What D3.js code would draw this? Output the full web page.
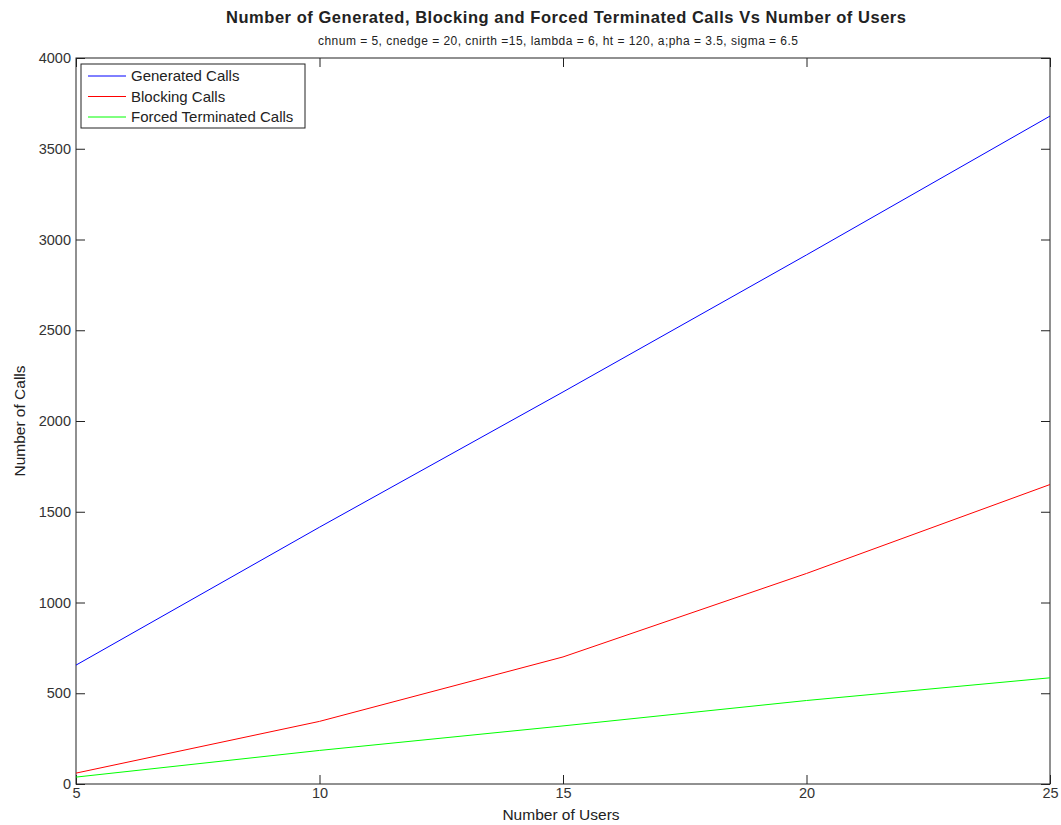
<!DOCTYPE html>
<html lang="en">
<head>
  <meta charset="UTF-8" />
  <title>Calls vs Users</title>
  <style>
    body { margin: 0; background: #fff; }
    text { font-family: "Liberation Sans", Arial, sans-serif; fill: #222; }
    .tick text { font-size: 14.5px; fill: #333; }
    .tick line { stroke: #222; }
  </style>
  <script src="https://d3js.org/d3.v7.min.js"></script>
</head>
<body>
  <svg id="chart"></svg>
  <script>
    const users = [5, 10, 15, 20, 25];
    const generated = [655, 1415, 2160, 2915, 3680];
    const blocking = [60, 345, 700, 1160, 1650];
    const forced = [38, 185, 320, 460, 585];
    const xTicks = [5, 10, 15, 20, 25];
    const yTicks = [0, 500, 1000, 1500, 2000, 2500, 3000, 3500, 4000];

    const series = [
      { name: 'Generated Calls', values: generated, color: '#0000ff' },
      { name: 'Blocking Calls', values: blocking, color: '#ff0000' },
      { name: 'Forced Terminated Calls', values: forced, color: '#00ff00' }
    ];

    const W = 1061, H = 825;
    const mLeft = 76, mRight = 1050, mTop = 58, mBottom = 784;

    const svg = d3.select('#chart').attr('width', W).attr('height', H);

    const x = d3.scaleLinear().domain([5, 25]).range([mLeft, mRight]);
    const y = d3.scaleLinear().domain([0, 4000]).range([mBottom, mTop]);

    // box
    svg.append('rect')
      .attr('x', mLeft).attr('y', mTop)
      .attr('width', mRight - mLeft).attr('height', mBottom - mTop)
      .attr('fill', 'none').attr('stroke', '#222').attr('stroke-width', 1);

    // axes with inward ticks
    const tl = 9;
    svg.append('g').attr('transform', `translate(0,${mBottom})`)
      .call(d3.axisBottom(x).tickValues(xTicks).tickSize(-tl).tickPadding(4))
      .call(g => g.select('.domain').remove());
    svg.append('g').attr('transform', `translate(0,${mTop})`)
      .call(d3.axisTop(x).tickValues(xTicks).tickSize(-tl).tickFormat(''))
      .call(g => g.select('.domain').remove());
    svg.append('g').attr('transform', `translate(${mLeft},0)`)
      .call(d3.axisLeft(y).tickValues(yTicks).tickSize(-tl).tickFormat(d3.format('d')))
      .call(g => g.select('.domain').remove())
      .call(g => g.selectAll('.tick text').attr('x', -5));
    svg.append('g').attr('transform', `translate(${mRight},0)`)
      .call(d3.axisRight(y).tickValues(yTicks).tickSize(-tl).tickFormat(''))
      .call(g => g.select('.domain').remove());

    const line = d3.line().x((d, i) => x(users[i])).y(d => y(d));

    series.forEach(s => {
      svg.append('path')
        .datum(s.values)
        .attr('d', line)
        .attr('fill', 'none')
        .attr('stroke', s.color)
        .attr('stroke-width', 1);
    });

    // legend
    const lg = svg.append('g').attr('transform', 'translate(81,64)');
    lg.append('rect').attr('width', 224).attr('height', 64)
      .attr('fill', '#fff').attr('stroke', '#222');
    series.forEach((s, i) => {
      const ly = 12 + i * 20.5;
      lg.append('line').attr('x1', 7).attr('x2', 45).attr('y1', ly).attr('y2', ly)
        .attr('stroke', s.color).attr('stroke-width', 1);
      lg.append('text').attr('x', 50).attr('y', ly).attr('dy', '0.35em')
        .attr('font-size', 15).text(s.name);
    });

    // titles
    svg.append('text').attr('x', 566).attr('y', 23)
      .attr('text-anchor', 'middle').attr('font-size', 16.5).attr('font-weight', 'bold')
      .attr('textLength', 680).attr('lengthAdjust', 'spacing')
      .text('Number of Generated, Blocking and Forced Terminated Calls Vs Number of Users');
    svg.append('text').attr('x', 558).attr('y', 45)
      .attr('text-anchor', 'middle').attr('font-size', 12)
      .attr('textLength', 480).attr('lengthAdjust', 'spacing')
      .text('chnum = 5, cnedge = 20, cnirth =15, lambda = 6, ht = 120, a;pha = 3.5, sigma = 6.5');
    svg.append('text').attr('x', 561).attr('y', 820)
      .attr('text-anchor', 'middle').attr('font-size', 15.5)
      .text('Number  of  Users');
    svg.append('text').attr('transform', `translate(25,${(mTop + mBottom) / 2}) rotate(-90)`)
      .attr('text-anchor', 'middle').attr('font-size', 15.5)
      .text('Number  of  Calls');
  </script>
</body>
</html>
